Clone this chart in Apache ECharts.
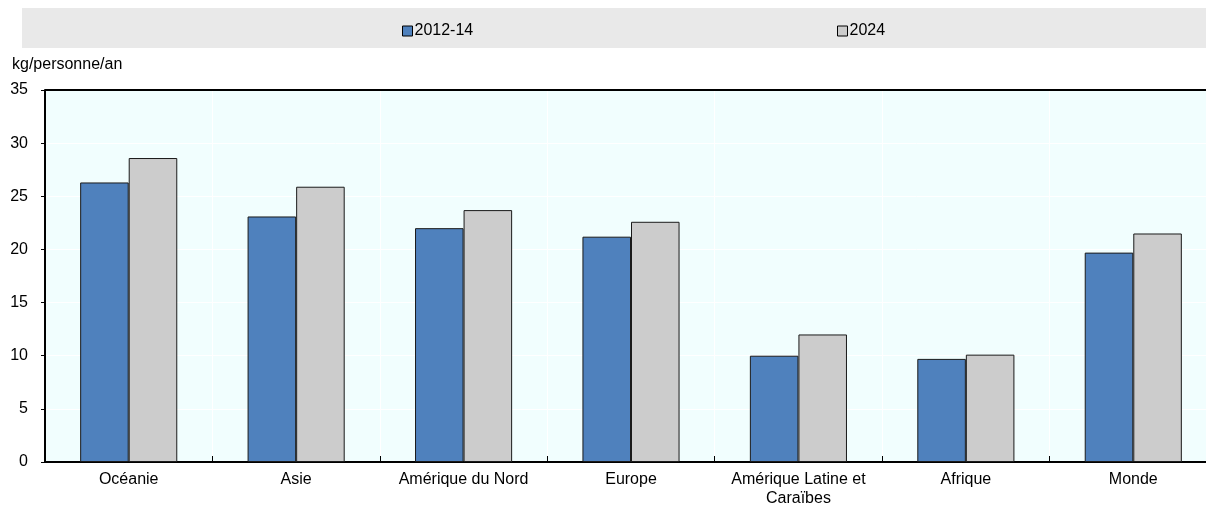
<!DOCTYPE html>
<html>
<head>
<meta charset="utf-8">
<script src="https://cdn.jsdelivr.net/npm/echarts@6/dist/echarts.min.js"></script>
<style>
  html, body { margin: 0; padding: 0; background: #fff; }
  #myChart { width: 1206px; height: 508px; }
</style>
</head>
<body>
<div id="myChart"></div>
<script>
// données
var categories = ["Océanie", "Asie", "Amérique du Nord", "Europe", "Amérique Latine et\nCaraïbes", "Afrique", "Monde"];
var seriesNames = ["2012-14", "2024"];
var values2012 = [26.3, 23.1, 22.0, 21.2, 10.0, 9.7, 19.7];
var values2024 = [28.6, 25.9, 23.7, 22.6, 12.0, 10.1, 21.5];
var yTicks = { min: 0, max: 35, interval: 5 };
var unitLabel = "kg/personne/an";

var font = "Arial, 'Liberation Sans', sans-serif";
var myChart = echarts.init(document.getElementById("myChart"));

myChart.setOption({
  animation: false,
  textStyle: { fontFamily: font },
  graphic: [
    {
      type: "rect",
      shape: { x: 22, y: 8, width: 1184, height: 40 },
      style: { fill: "#e9e9e9" },
      z: -1
    },
    {
      type: "text",
      left: 12,
      top: 57,
      style: { text: unitLabel, font: "16px " + font, fill: "#000" }
    }
  ],
  legend: [
    {
      data: [seriesNames[0]],
      left: 397,
      top: 18,
      icon: "rect",
      itemWidth: 10,
      itemHeight: 10,
      textStyle: { fontSize: 16, color: "#000", padding: [0, 0, 0, -3] },
      itemStyle: { borderColor: "#000", borderWidth: 1 }
    },
    {
      data: [seriesNames[1]],
      left: 832,
      top: 18,
      icon: "rect",
      itemWidth: 10,
      itemHeight: 10,
      textStyle: { fontSize: 16, color: "#000", padding: [0, 0, 0, -3] },
      itemStyle: { borderColor: "#000", borderWidth: 1 }
    }
  ],
  grid: {
    left: 45,
    top: 90,
    width: 1172,
    height: 372,
    outerBoundsMode: "none",
    containLabel: false,
    show: true,
    backgroundColor: "#f1fefe",
    borderWidth: 0
  },
  xAxis: {
    type: "category",
    data: categories,
    axisLine: { show: true, lineStyle: { color: "#000", width: 2 } },
    axisTick: { show: true, inside: true, length: 6, lineStyle: { color: "#000" } },
    axisLabel: { color: "#000", fontSize: 16, margin: 8, interval: 0, lineHeight: 19 },
    splitLine: { show: true, lineStyle: { color: "#fff", width: 1 } }
  },
  yAxis: {
    type: "value",
    min: yTicks.min,
    max: yTicks.max,
    interval: yTicks.interval,
    axisLine: { show: true, lineStyle: { color: "#000", width: 2 } },
    axisTick: { show: true, inside: false, length: 4, lineStyle: { color: "#000" } },
    axisLabel: { color: "#000", fontSize: 16, margin: 17 },
    splitLine: { show: true, lineStyle: { color: "#fff", width: 1 } }
  },
  series: [
    {
      name: seriesNames[0],
      type: "bar",
      data: values2012,
      barGap: "0%",
      barCategoryGap: "42%",
      itemStyle: { color: "#4f81bd", borderColor: "#1a1a1a", borderWidth: 1 }
    },
    {
      name: seriesNames[1],
      type: "bar",
      data: values2024,
      barGap: "0%",
      barCategoryGap: "42%",
      itemStyle: { color: "#cccccc", borderColor: "#1a1a1a", borderWidth: 1 }
    },
    {
      // ligne noire en haut du cadre
      type: "line",
      data: [],
      markLine: {
        silent: true,
        symbol: "none",
        label: { show: false },
        lineStyle: { color: "#000", width: 2, type: "solid" },
        data: [{ yAxis: yTicks.max }]
      }
    }
  ]
});
</script>
</body>
</html>
